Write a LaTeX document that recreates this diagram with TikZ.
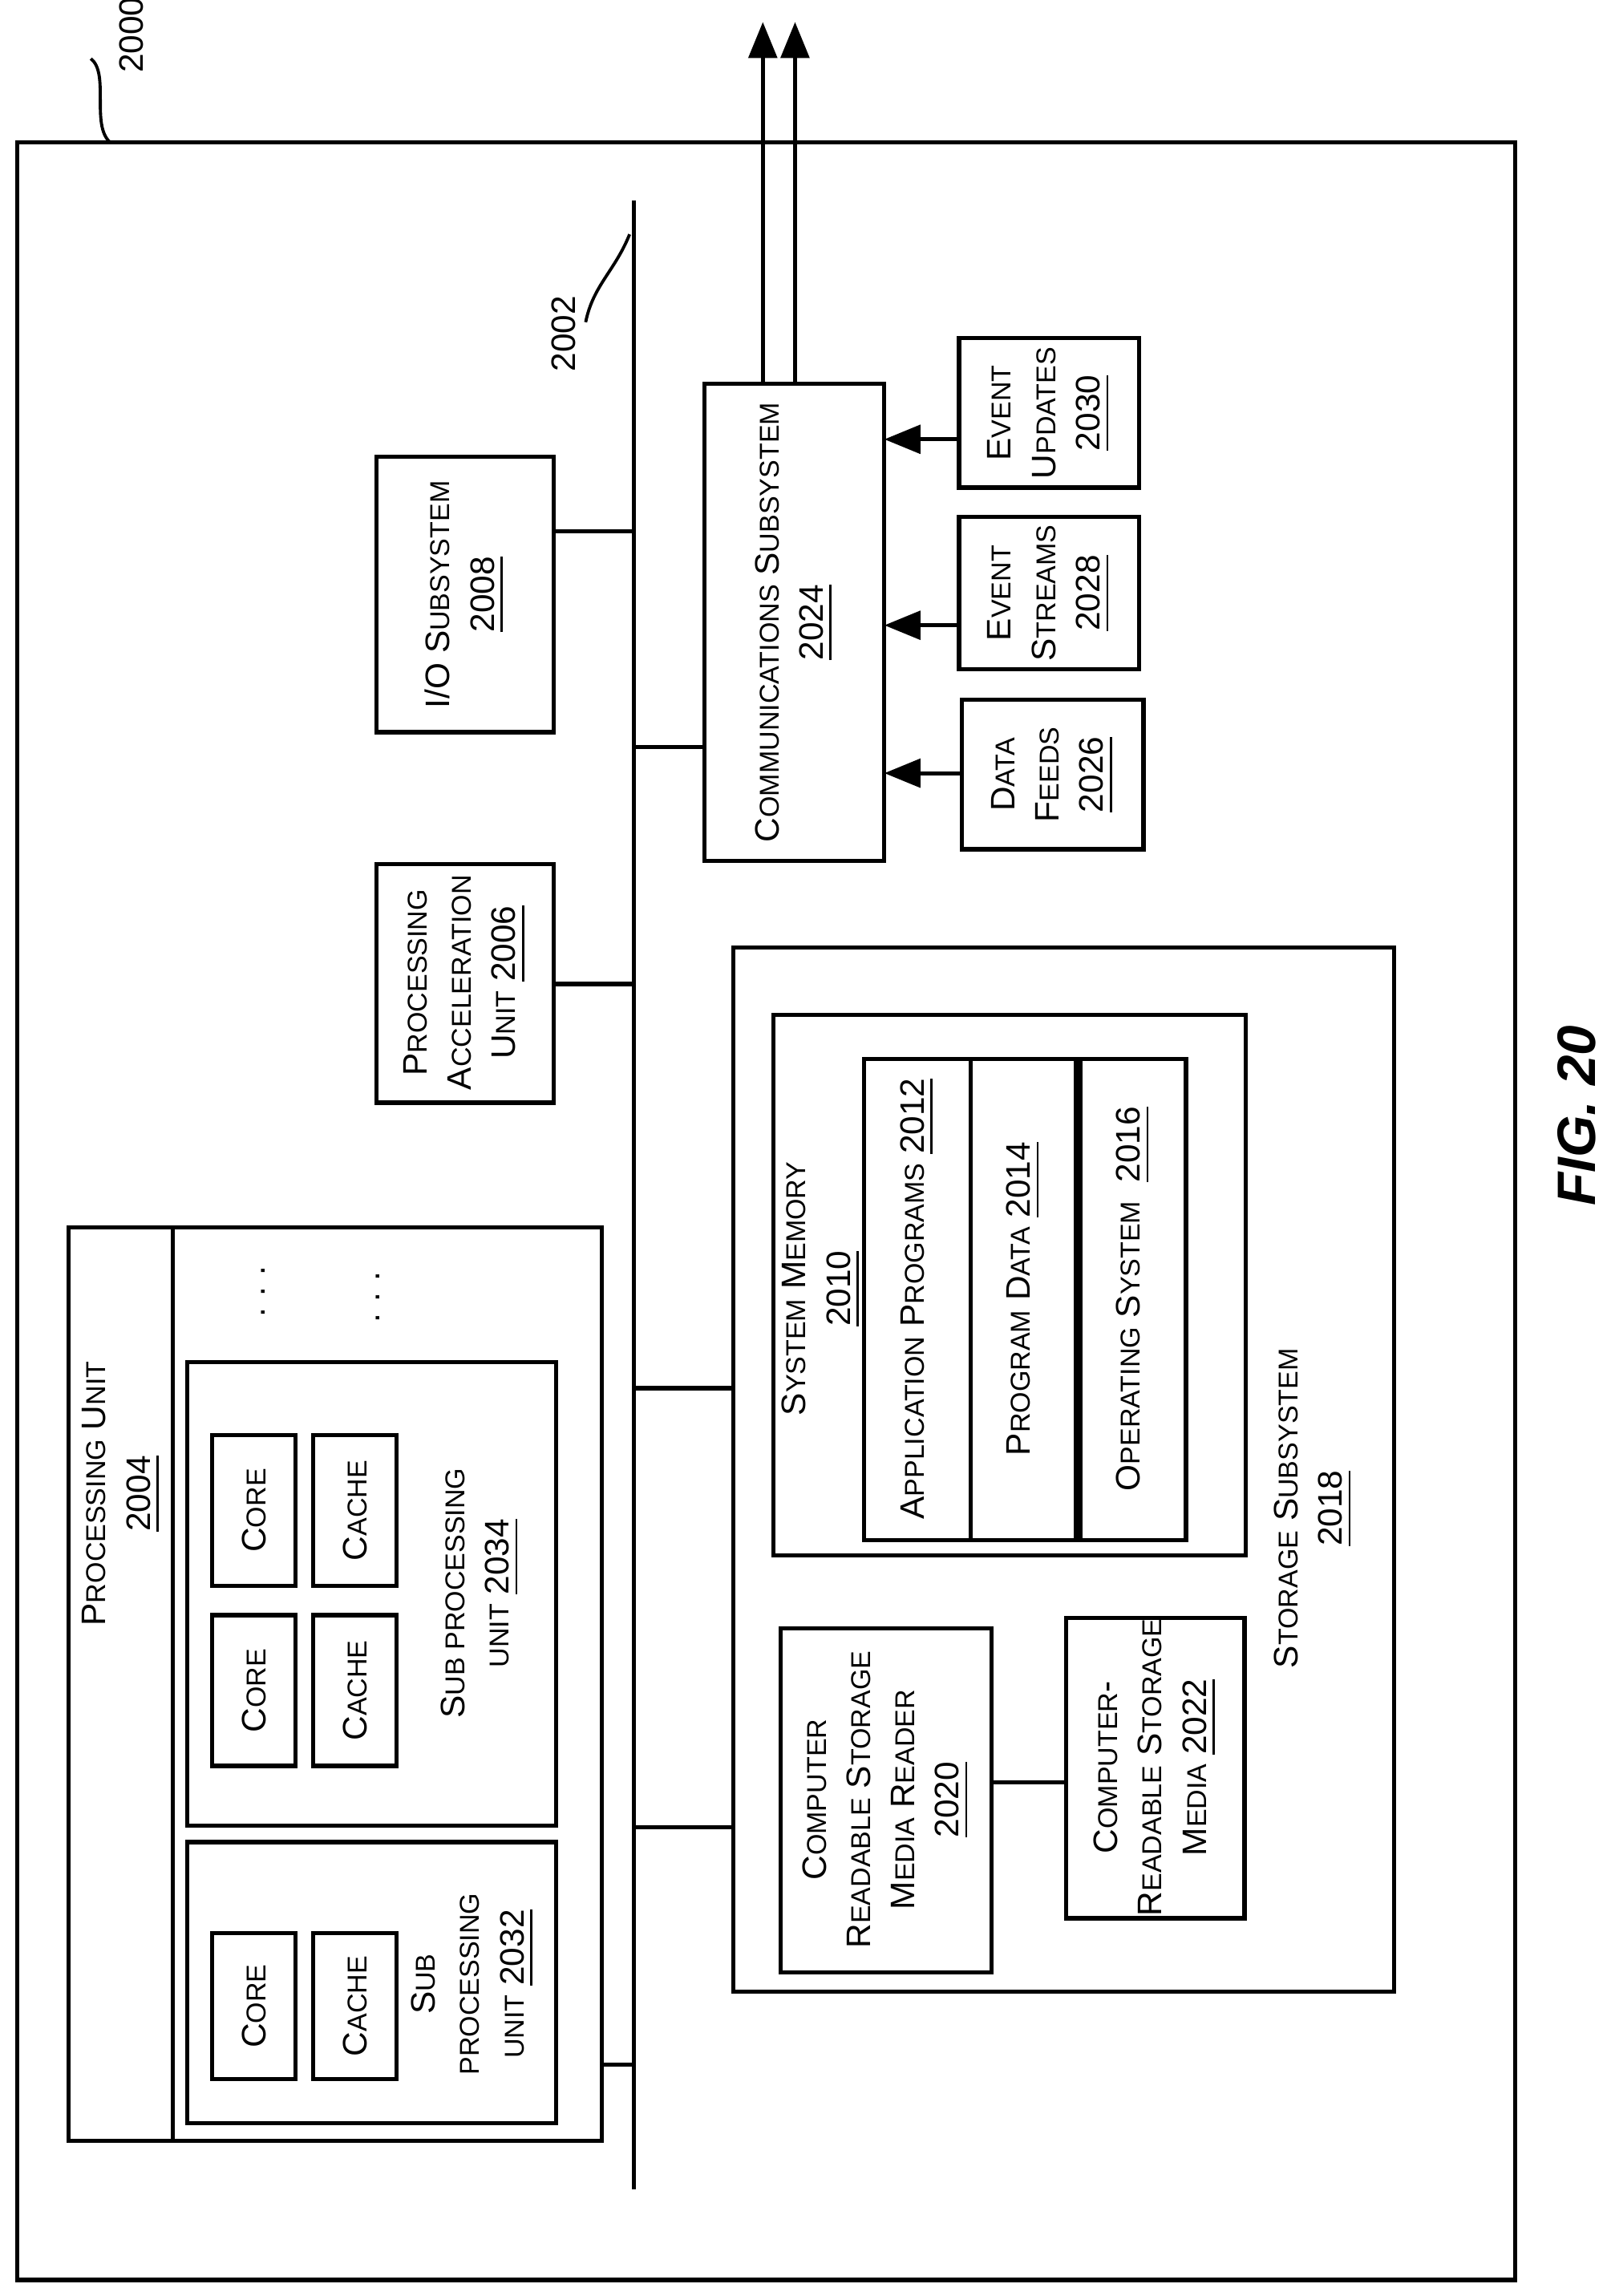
\documentclass[tikz,border=0pt]{standalone}
\usepackage{fontspec}
\setmainfont{Liberation Sans}
\usetikzlibrary{arrows.meta}
\newcommand{\Sc}[2]{#1{\fontsize{5.3}{7}\selectfont #2}}
\newcommand{\Sm}[1]{{\fontsize{5.3}{7}\selectfont #1}}
\begin{document}
\begin{tikzpicture}[x=0.01cm,y=-0.01cm,line width=0.8pt,
  lb/.style={rotate=90,align=center,font=\fontsize{6.6}{8.6}\selectfont},
  ar/.style={-{Triangle[length=7pt,width=5.5pt]}}]
\useasboundingbox (0,0) rectangle (1100,1568);
% outer
\draw (12,97) rectangle (1035,1557);
\coordinate (o1) at (62,40); \coordinate (o2) at (75,97);
\draw[line width=0.6pt] (o1) .. controls (75,50) and (62,85) .. (o2);
\node[lb] (n2000) at (90,24) {2000};
% bus
\coordinate (bt) at (433,137); \coordinate (bb) at (433,1495);
\draw (bt) -- (bb);
\draw[line width=0.6pt] (430,160) .. controls (420,185) and (405,195) .. (400,220);
\node[lb] (n2002) at (385,228) {2002};
% comm
\draw (481,262) rectangle (604,588);
\node[lb] (commL) at (542.5,425) {\Sc{C}{OMMUNICATIONS} \Sc{S}{UBSYSTEM}\\\underline{2024}};
\coordinate (u1) at (521,262); \coordinate (u1t) at (521,15);
\coordinate (u2) at (543,262); \coordinate (u2t) at (543,15);
\draw[ar] (u1) -- (u1t); \draw[ar] (u2) -- (u2t);
\draw (433,510) -- (481,510);
% inputs
\draw (657,478) rectangle (781,580);
\node[lb] (df) at (719,529) {\Sc{D}{ATA}\\\Sc{F}{EEDS}\\\underline{2026}};
\draw[ar] (657,528) -- (604,528);
\draw (655,353) rectangle (778,457);
\node[lb] (es) at (716.5,405) {\Sc{E}{VENT}\\\Sc{S}{TREAMS}\\\underline{2028}};
\draw[ar] (655,427) -- (604,427);
\draw (655,231) rectangle (778,333);
\node[lb] (eu) at (716.5,282) {\Sc{E}{VENT}\\\Sc{U}{PDATES}\\\underline{2030}};
\draw[ar] (655,300) -- (604,300);
% IO
\draw (257,312) rectangle (378,500);
\node[lb] (io) at (317.5,406) {I/O \Sc{S}{UBSYSTEM}\\\underline{2008}};
\draw (378,363) -- (433,363);
% PAU
\draw (257,590) rectangle (378,753);
\node[lb] (pau) at (317.5,671) {\Sc{P}{ROCESSING}\\\Sc{A}{CCELERATION}\\\Sc{U}{NIT} \underline{2006}};
\draw (378,672) -- (433,672);
% processing unit
\draw (47,838) rectangle (411,1462);
\draw (118,838) -- (118,1462);
\node[lb] (pu) at (83,1020) {\Sc{P}{ROCESSING} \Sc{U}{NIT}\\\underline{2004}};
\draw (411,1410) -- (433,1410);
\draw (128,930) rectangle (380,1247);
\draw (145,980) rectangle (202,1083); \node[lb] at (173.5,1031.5) {\Sc{C}{ORE}};
\draw (214,980) rectangle (271,1083); \node[lb] at (242.5,1031.5) {\Sc{C}{ACHE}};
\draw (145,1103) rectangle (202,1206); \node[lb] at (173.5,1154.5) {\Sc{C}{ORE}};
\draw (214,1103) rectangle (271,1206); \node[lb] at (242.5,1154.5) {\Sc{C}{ACHE}};
\node[lb] (s2034) at (328,1088) {\Sc{S}{UB PROCESSING}\\\Sm{UNIT} \underline{2034}};
\draw (128,1258) rectangle (380,1450);
\draw (145,1320) rectangle (202,1420); \node[lb] at (173.5,1370) {\Sc{C}{ORE}};
\draw (214,1320) rectangle (271,1420); \node[lb] at (242.5,1370) {\Sc{C}{ACHE}};
\node[lb] (s2032) at (323,1355) {\Sc{S}{UB}\\\Sm{PROCESSING}\\\Sm{UNIT} \underline{2032}};
\node[lb] at (180,882) {.\,\,.\,\,.};
\node[lb] at (258,886) {.\,\,.\,\,.};
% storage
\draw (501,647) rectangle (952,1360);
\draw (433,948) -- (501,948); \draw (433,1248) -- (501,1248);
\node[lb] (ss) at (897,1030) {\Sc{S}{TORAGE} \Sc{S}{UBSYSTEM}\\\underline{2018}};
\draw (528,693) rectangle (851,1062);
\node[lb] (sm) at (561,880) {\Sc{S}{YSTEM} \Sc{M}{EMORY}\\\underline{2010}};
\draw (590,723) rectangle (663,1052);
\node[lb] at (626.5,887) {\Sc{A}{PPLICATION} \Sc{P}{ROGRAMS} \underline{2012}};
\draw (663,723) rectangle (735,1052);
\node[lb] at (699,887) {\Sc{P}{ROGRAM} \Sc{D}{ATA} \underline{2014}};
\draw (738,723) rectangle (810,1052);
\node[lb] at (774,887) {\Sc{O}{PERATING} \Sc{S}{YSTEM}\ \ \underline{2016}};
\draw (533,1112) rectangle (677,1347);
\node[lb] (rd) at (605,1229) {\Sc{C}{OMPUTER}\\\Sc{R}{EADABLE} \Sc{S}{TORAGE}\\\Sc{M}{EDIA} \Sc{R}{EADER}\\\underline{2020}};
\draw (677,1217) -- (728,1217);
\draw (728,1105) rectangle (850,1310);
\node[lb] (md) at (789,1207) {\Sc{C}{OMPUTER}-\\\Sc{R}{EADABLE} \Sc{S}{TORAGE}\\\Sc{M}{EDIA} \underline{2022}};
\node[lb,font=\bfseries\itshape\fontsize{10.5}{12}\selectfont] (fig) at (1077,762) {FIG. 20};
\end{tikzpicture}
\end{document}
